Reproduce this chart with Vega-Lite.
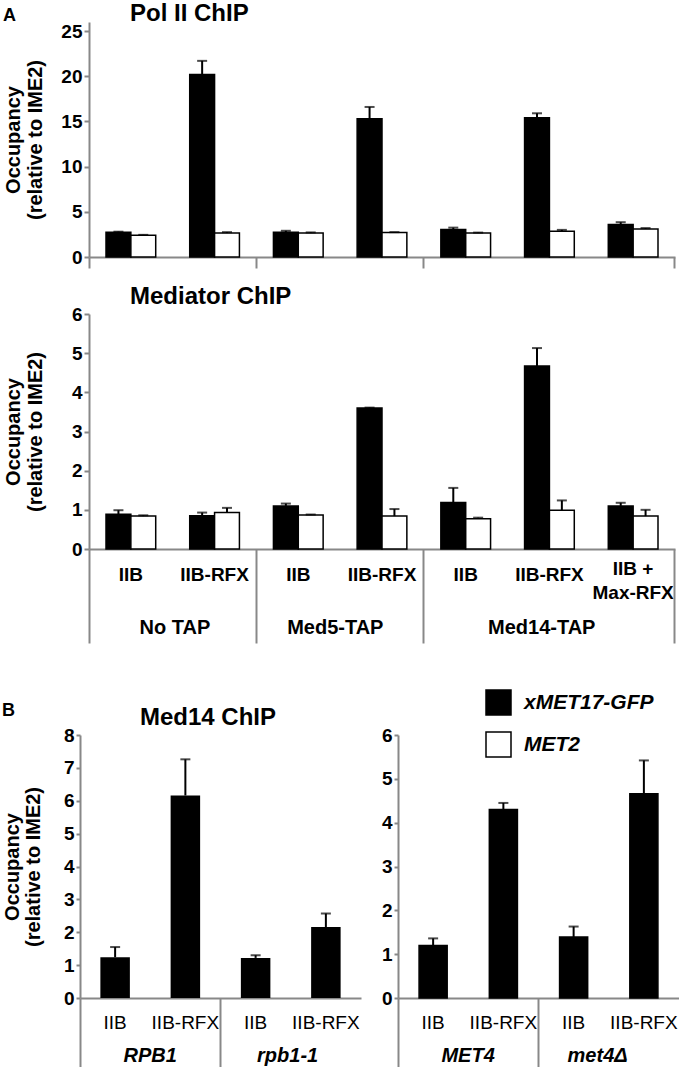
{
  "$schema": "https://vega.github.io/schema/vega-lite/v6.json",
  "padding": {"left": 2, "top": 2, "right": 0, "bottom": 0},
  "background": "white",
  "config": {
    "font": "Liberation Sans",
    "view": {"stroke": null},
    "axis": {"grid": false, "domainColor": "#888888", "domainWidth": 2, "tickColor": "#888888", "tickWidth": 2, "labelColor": "black", "titleColor": "black", "labelFont": "Liberation Sans", "titleFont": "Liberation Sans", "labelOverlap": false, "labelAngle": 0},
    "title": {"font": "Liberation Sans", "color": "black", "fontWeight": "bold"}
  },
  "datasets": {
    "polii": [
      {"key": "No TAP|IIB", "series": "xMET17-GFP", "value": 2.75, "hi": 2.8},
      {"key": "No TAP|IIB", "series": "MET2", "value": 2.4, "hi": 2.45},
      {"key": "No TAP|IIB-RFX", "series": "xMET17-GFP", "value": 20.2, "hi": 21.7},
      {"key": "No TAP|IIB-RFX", "series": "MET2", "value": 2.65, "hi": 2.75},
      {"key": "Med5-TAP|IIB", "series": "xMET17-GFP", "value": 2.75, "hi": 2.9},
      {"key": "Med5-TAP|IIB", "series": "MET2", "value": 2.65, "hi": 2.72},
      {"key": "Med5-TAP|IIB-RFX", "series": "xMET17-GFP", "value": 15.3, "hi": 16.6},
      {"key": "Med5-TAP|IIB-RFX", "series": "MET2", "value": 2.7, "hi": 2.75},
      {"key": "Med14-TAP|IIB", "series": "xMET17-GFP", "value": 3.05, "hi": 3.25},
      {"key": "Med14-TAP|IIB", "series": "MET2", "value": 2.65, "hi": 2.7},
      {"key": "Med14-TAP|IIB-RFX", "series": "xMET17-GFP", "value": 15.4, "hi": 15.9},
      {"key": "Med14-TAP|IIB-RFX", "series": "MET2", "value": 2.85, "hi": 3.0},
      {"key": "Med14-TAP|IIB + Max-RFX", "series": "xMET17-GFP", "value": 3.6, "hi": 3.85},
      {"key": "Med14-TAP|IIB + Max-RFX", "series": "MET2", "value": 3.1, "hi": 3.2}
    ],
    "med": [
      {"key": "No TAP|IIB", "series": "xMET17-GFP", "value": 0.89, "hi": 0.99},
      {"key": "No TAP|IIB", "series": "MET2", "value": 0.84, "hi": 0.86},
      {"key": "No TAP|IIB-RFX", "series": "xMET17-GFP", "value": 0.85, "hi": 0.93},
      {"key": "No TAP|IIB-RFX", "series": "MET2", "value": 0.93, "hi": 1.05},
      {"key": "Med5-TAP|IIB", "series": "xMET17-GFP", "value": 1.1, "hi": 1.16},
      {"key": "Med5-TAP|IIB", "series": "MET2", "value": 0.87, "hi": 0.88},
      {"key": "Med5-TAP|IIB-RFX", "series": "xMET17-GFP", "value": 3.6, "hi": 3.61},
      {"key": "Med5-TAP|IIB-RFX", "series": "MET2", "value": 0.84, "hi": 1.02},
      {"key": "Med14-TAP|IIB", "series": "xMET17-GFP", "value": 1.19, "hi": 1.56},
      {"key": "Med14-TAP|IIB", "series": "MET2", "value": 0.77, "hi": 0.8},
      {"key": "Med14-TAP|IIB-RFX", "series": "xMET17-GFP", "value": 4.67, "hi": 5.13},
      {"key": "Med14-TAP|IIB-RFX", "series": "MET2", "value": 0.99, "hi": 1.24},
      {"key": "Med14-TAP|IIB + Max-RFX", "series": "xMET17-GFP", "value": 1.1, "hi": 1.18},
      {"key": "Med14-TAP|IIB + Max-RFX", "series": "MET2", "value": 0.84, "hi": 1.0}
    ],
    "bleft": [
      {"key": "RPB1|IIB", "series": "xMET17-GFP", "value": 1.24, "hi": 1.55},
      {"key": "RPB1|IIB-RFX", "series": "xMET17-GFP", "value": 6.16, "hi": 7.26},
      {"key": "rpb1-1|IIB", "series": "xMET17-GFP", "value": 1.22, "hi": 1.3},
      {"key": "rpb1-1|IIB-RFX", "series": "xMET17-GFP", "value": 2.16, "hi": 2.57}
    ],
    "bright": [
      {"key": "MET4|IIB", "series": "xMET17-GFP", "value": 1.2, "hi": 1.36},
      {"key": "MET4|IIB-RFX", "series": "xMET17-GFP", "value": 4.3, "hi": 4.45},
      {"key": "met4Δ|IIB", "series": "xMET17-GFP", "value": 1.39, "hi": 1.63},
      {"key": "met4Δ|IIB-RFX", "series": "xMET17-GFP", "value": 4.66, "hi": 5.42}
    ]
  },
  "resolve": {"scale": {"fill": "independent", "xOffset": "independent"}, "legend": {"fill": "independent"}},
  "spacing": 45,
  "vconcat": [
    {
      "title": {"text": "A", "anchor": "start", "frame": "bounds", "fontSize": 18, "baseline": "alphabetic", "offset": 0, "dy": 37},
      "bounds": "flush",
      "spacing": 57,
      "resolve": {"scale": {"xOffset": "independent"}},
      "vconcat": [
        {
          "width": 586, "height": 235,
          "data": {"name": "polii"},
          "title": {"text": "Pol II ChIP", "anchor": "start", "frame": "group", "dx": 41, "dy": 23, "fontSize": 24, "baseline": "alphabetic", "offset": 0},
          "resolve": {"axis": {"x": "independent"}},
          "layer": [
            {
              "mark": {"type": "bar", "stroke": "black", "strokeWidth": 1.5},
              "encoding": {
                "x": {"field": "key", "type": "nominal", "scale": {"domain": ["No TAP|IIB", "No TAP|IIB-RFX", "Med5-TAP|IIB", "Med5-TAP|IIB-RFX", "Med14-TAP|IIB", "Med14-TAP|IIB-RFX", "Med14-TAP|IIB + Max-RFX"], "paddingInner": 0, "paddingOuter": 0}, "axis": {"orient": "bottom", "title": null, "labels": false, "ticks": false, "tickSize": 0, "domain": true}},
                "xOffset": {"field": "series", "type": "nominal", "scale": {"domain": ["xMET17-GFP", "MET2"], "paddingInner": 0, "paddingOuter": 0.684}},
                "y": {"field": "value", "type": "quantitative", "scale": {"domain": [0, 25]}, "axis": {"title": ["Occupancy", "(relative to IME2)"], "titleFontSize": 20, "titleFontWeight": "bold", "titleLineHeight": 22, "titlePadding": 14, "minExtent": 30, "maxExtent": 30, "values": [0, 5, 10, 15, 20, 25], "labelFontSize": 19, "labelFontWeight": "bold", "tickSize": 5, "labelPadding": 2}},
                "fill": {"field": "series", "type": "nominal", "scale": {"domain": ["xMET17-GFP", "MET2"], "range": ["black", "white"]}, "legend": null}
              }
            },
            {
              "mark": {"type": "rule", "color": "black", "strokeWidth": 2},
              "encoding": {
                "x": {"field": "key", "type": "nominal", "axis": {"orient": "bottom", "title": null, "labels": false, "domain": false, "ticks": true, "bandPosition": 0, "tickSize": 11, "tickOpacity": {"condition": {"test": "datum.value == 'No TAP|IIB' || datum.value == 'Med5-TAP|IIB' || datum.value == 'Med14-TAP|IIB'", "value": 1}, "value": 0}}},
                "xOffset": {"field": "series", "type": "nominal"},
                "y": {"field": "value", "type": "quantitative", "axis": {"title": ["Occupancy", "(relative to IME2)"], "titleFontSize": 20, "titleFontWeight": "bold", "titleLineHeight": 22, "titlePadding": 14, "minExtent": 30, "maxExtent": 30, "values": [0, 5, 10, 15, 20, 25], "labelFontSize": 19, "labelFontWeight": "bold", "tickSize": 5, "labelPadding": 2}},
                "y2": {"field": "hi"}
              }
            },
            {
              "mark": {"type": "tick", "color": "black", "thickness": 2, "size": 10},
              "encoding": {
                "x": {"field": "key", "type": "nominal", "axis": {"orient": "bottom", "title": null, "labels": false, "domain": false, "ticks": true, "bandPosition": 1, "tickSize": 11, "tickOpacity": {"condition": {"test": "datum.value == 'Med14-TAP|IIB + Max-RFX'", "value": 1}, "value": 0}}},
                "xOffset": {"field": "series", "type": "nominal"},
                "y": {"field": "hi", "type": "quantitative", "axis": {"title": ["Occupancy", "(relative to IME2)"], "titleFontSize": 20, "titleFontWeight": "bold", "titleLineHeight": 22, "titlePadding": 14, "minExtent": 30, "maxExtent": 30, "values": [0, 5, 10, 15, 20, 25], "labelFontSize": 19, "labelFontWeight": "bold", "tickSize": 5, "labelPadding": 2}}
              }
            }
          ]
        },
        {
          "width": 586, "height": 235,
          "data": {"name": "med"},
          "title": {"text": "Mediator ChIP", "anchor": "start", "frame": "group", "dx": 41, "dy": 23, "fontSize": 24, "baseline": "alphabetic", "offset": 0},
          "resolve": {"axis": {"x": "independent"}},
          "layer": [
            {
              "mark": {"type": "bar", "stroke": "black", "strokeWidth": 1.5},
              "encoding": {
                "x": {"field": "key", "type": "nominal", "scale": {"domain": ["No TAP|IIB", "No TAP|IIB-RFX", "Med5-TAP|IIB", "Med5-TAP|IIB-RFX", "Med14-TAP|IIB", "Med14-TAP|IIB-RFX", "Med14-TAP|IIB + Max-RFX"], "paddingInner": 0, "paddingOuter": 0}, "axis": {"orient": "bottom", "title": null, "labels": true, "ticks": false, "tickSize": 0, "domain": true, "labelExpr": "datum.value == 'Med14-TAP|IIB + Max-RFX' ? ['IIB +', 'Max-RFX'] : split(datum.value, '|')[1]", "labelFontSize": 19, "labelFontWeight": "bold", "labelBaseline": "middle", "labelLineHeight": 24, "labelPadding": {"condition": {"test": "datum.value == 'Med14-TAP|IIB + Max-RFX'", "value": 19}, "value": 25}}},
                "xOffset": {"field": "series", "type": "nominal", "scale": {"domain": ["xMET17-GFP", "MET2"], "paddingInner": 0, "paddingOuter": 0.684}},
                "y": {"field": "value", "type": "quantitative", "scale": {"domain": [0, 6]}, "axis": {"title": ["Occupancy", "(relative to IME2)"], "titleFontSize": 20, "titleFontWeight": "bold", "titleLineHeight": 22, "titlePadding": 14, "minExtent": 30, "maxExtent": 30, "values": [0, 1, 2, 3, 4, 5, 6], "labelFontSize": 19, "labelFontWeight": "bold", "tickSize": 5, "labelPadding": 2}},
                "fill": {"field": "series", "type": "nominal", "scale": {"domain": ["xMET17-GFP", "MET2"], "range": ["black", "white"]}, "legend": null}
              }
            },
            {
              "mark": {"type": "rule", "color": "black", "strokeWidth": 2},
              "encoding": {
                "x": {"field": "key", "type": "nominal", "axis": {"orient": "bottom", "title": null, "labels": false, "domain": false, "ticks": true, "bandPosition": 0, "tickSize": 94, "tickOpacity": {"condition": {"test": "datum.value == 'No TAP|IIB' || datum.value == 'Med5-TAP|IIB' || datum.value == 'Med14-TAP|IIB'", "value": 1}, "value": 0}}},
                "xOffset": {"field": "series", "type": "nominal"},
                "y": {"field": "value", "type": "quantitative", "axis": {"title": ["Occupancy", "(relative to IME2)"], "titleFontSize": 20, "titleFontWeight": "bold", "titleLineHeight": 22, "titlePadding": 14, "minExtent": 30, "maxExtent": 30, "values": [0, 1, 2, 3, 4, 5, 6], "labelFontSize": 19, "labelFontWeight": "bold", "tickSize": 5, "labelPadding": 2}},
                "y2": {"field": "hi"}
              }
            },
            {
              "mark": {"type": "tick", "color": "black", "thickness": 2, "size": 10},
              "encoding": {
                "x": {"field": "key", "type": "nominal", "axis": {"orient": "bottom", "title": null, "labels": true, "domain": false, "ticks": true, "bandPosition": 1, "tickSize": 94, "tickOpacity": {"condition": {"test": "datum.value == 'Med14-TAP|IIB + Max-RFX'", "value": 1}, "value": 0}, "labelExpr": "datum.value == 'No TAP|IIB' ? 'No TAP' : datum.value == 'Med5-TAP|IIB' ? 'Med5-TAP' : datum.value == 'Med14-TAP|IIB' ? 'Med14-TAP' : ''", "labelFontSize": 20, "labelFontWeight": "bold", "labelBaseline": "middle", "labelPadding": -15.6, "labelOffset": {"condition": [{"test": "datum.value == 'Med14-TAP|IIB'", "value": 76}, {"test": "datum.value == 'Med5-TAP|IIB'", "value": 37}], "value": 44}}},
                "xOffset": {"field": "series", "type": "nominal"},
                "y": {"field": "hi", "type": "quantitative", "axis": {"title": ["Occupancy", "(relative to IME2)"], "titleFontSize": 20, "titleFontWeight": "bold", "titleLineHeight": 22, "titlePadding": 14, "minExtent": 30, "maxExtent": 30, "values": [0, 1, 2, 3, 4, 5, 6], "labelFontSize": 19, "labelFontWeight": "bold", "tickSize": 5, "labelPadding": 2}}
              }
            }
          ]
        }
      ]
    },
    {
      "title": {"text": "B", "anchor": "start", "frame": "bounds", "fontSize": 18, "baseline": "alphabetic", "offset": 0, "dy": 45},
      "bounds": "flush",
      "spacing": 37,
      "resolve": {"scale": {"fill": "independent"}, "legend": {"fill": "independent"}},
      "hconcat": [
        {
          "width": 272, "height": 263,
          "data": {"name": "bleft"},
          "title": {"text": "Med14 ChIP", "anchor": "start", "frame": "group", "dx": 51, "dy": 23, "fontSize": 24, "baseline": "alphabetic", "offset": 0},
          "resolve": {"axis": {"x": "independent"}},
          "layer": [
            {
              "mark": {"type": "bar", "color": "black", "width": {"band": 0.42}},
              "encoding": {
                "x": {"field": "key", "type": "nominal", "scale": {"domain": ["RPB1|IIB", "RPB1|IIB-RFX", "rpb1-1|IIB", "rpb1-1|IIB-RFX"], "range": [-9, 272], "paddingInner": 0, "paddingOuter": 0}, "axis": {"orient": "bottom", "title": null, "labels": true, "ticks": false, "tickSize": 0, "domain": true, "labelExpr": "split(datum.value, '|')[1]", "labelFontSize": 19, "labelFontWeight": "normal", "labelBaseline": "middle", "labelPadding": 24}},
                "y": {"field": "value", "type": "quantitative", "scale": {"domain": [0, 8]}, "axis": {"offset": 9, "title": ["Occupancy", "(relative to IME2)"], "titleFontSize": 20, "titleFontWeight": "bold", "titleLineHeight": 21, "titlePadding": 12, "minExtent": 25, "maxExtent": 25, "values": [0, 1, 2, 3, 4, 5, 6, 7, 8], "labelFontSize": 19, "labelFontWeight": "bold", "tickSize": 4, "labelPadding": 2}}
              }
            },
            {
              "mark": {"type": "rule", "color": "black", "strokeWidth": 2},
              "encoding": {
                "x": {"field": "key", "type": "nominal", "axis": {"orient": "bottom", "title": null, "labels": false, "domain": false, "ticks": true, "bandPosition": 0, "tickSize": 70, "tickOpacity": {"condition": {"test": "indexof(datum.value, '|IIB-RFX') < 0", "value": 1}, "value": 0}}},
                "y": {"field": "value", "type": "quantitative", "axis": {"offset": 9, "title": ["Occupancy", "(relative to IME2)"], "titleFontSize": 20, "titleFontWeight": "bold", "titleLineHeight": 21, "titlePadding": 12, "minExtent": 25, "maxExtent": 25, "values": [0, 1, 2, 3, 4, 5, 6, 7, 8], "labelFontSize": 19, "labelFontWeight": "bold", "tickSize": 4, "labelPadding": 2}},
                "y2": {"field": "hi"}
              }
            },
            {
              "mark": {"type": "tick", "color": "black", "thickness": 2, "size": 10},
              "encoding": {
                "x": {"field": "key", "type": "nominal", "axis": {"orient": "bottom", "title": null, "labels": true, "domain": false, "ticks": false, "tickSize": 0, "labelExpr": "indexof(datum.value, '|IIB-RFX') < 0 ? split(datum.value, '|')[0] : ''", "labelFontSize": 20, "labelFontWeight": "bold", "labelFontStyle": "italic", "labelBaseline": "middle", "labelPadding": 57, "labelOffset": {"condition": {"test": "datum.value == 'rpb1-1|IIB'", "value": 32}, "value": 35}}},
                "y": {"field": "hi", "type": "quantitative", "axis": {"offset": 9, "title": ["Occupancy", "(relative to IME2)"], "titleFontSize": 20, "titleFontWeight": "bold", "titleLineHeight": 21, "titlePadding": 12, "minExtent": 25, "maxExtent": 25, "values": [0, 1, 2, 3, 4, 5, 6, 7, 8], "labelFontSize": 19, "labelFontWeight": "bold", "tickSize": 4, "labelPadding": 2}}
              }
            }
          ]
        },
        {
          "width": 281, "height": 263,
          "data": {"name": "bright"},
          "resolve": {"axis": {"x": "independent"}},
          "layer": [
            {
              "mark": {"type": "bar", "stroke": "black", "strokeWidth": 1.5, "width": {"band": 0.4}},
              "encoding": {
                "x": {"field": "key", "type": "nominal", "scale": {"domain": ["MET4|IIB", "MET4|IIB-RFX", "met4Δ|IIB", "met4Δ|IIB-RFX"], "paddingInner": 0, "paddingOuter": 0}, "axis": {"orient": "bottom", "title": null, "labels": true, "ticks": false, "tickSize": 0, "domain": true, "labelExpr": "split(datum.value, '|')[1]", "labelFontSize": 19, "labelFontWeight": "normal", "labelBaseline": "middle", "labelPadding": 24}},
                "y": {"field": "value", "type": "quantitative", "scale": {"domain": [0, 6]}, "axis": {"title": null, "minExtent": 25, "maxExtent": 25, "values": [0, 1, 2, 3, 4, 5, 6], "labelFontSize": 19, "labelFontWeight": "bold", "tickSize": 4, "labelPadding": 2}},
                "fill": {"field": "series", "type": "nominal", "scale": {"domain": ["xMET17-GFP", "MET2"], "range": ["black", "white"]}, "legend": {"orient": "none", "legendX": 87, "legendY": -46, "title": null, "symbolType": "square", "symbolSize": 625, "symbolStrokeColor": "black", "symbolStrokeWidth": 1.5, "labelFontSize": 21, "labelFontWeight": "bold", "labelFontStyle": "italic", "labelFont": "Liberation Sans", "labelColor": "black", "labelOffset": 12, "rowPadding": 11}}
              }
            },
            {
              "mark": {"type": "rule", "color": "black", "strokeWidth": 2},
              "encoding": {
                "x": {"field": "key", "type": "nominal", "axis": {"orient": "bottom", "title": null, "labels": false, "domain": false, "ticks": true, "bandPosition": 0, "tickSize": 70, "tickOpacity": {"condition": {"test": "indexof(datum.value, '|IIB-RFX') < 0", "value": 1}, "value": 0}}},
                "y": {"field": "value", "type": "quantitative", "axis": {"title": null, "minExtent": 25, "maxExtent": 25, "values": [0, 1, 2, 3, 4, 5, 6], "labelFontSize": 19, "labelFontWeight": "bold", "tickSize": 4, "labelPadding": 2}},
                "y2": {"field": "hi"}
              }
            },
            {
              "mark": {"type": "tick", "color": "black", "thickness": 2, "size": 10},
              "encoding": {
                "x": {"field": "key", "type": "nominal", "axis": {"orient": "bottom", "title": null, "labels": true, "domain": false, "ticks": false, "tickSize": 0, "labelExpr": "indexof(datum.value, '|IIB-RFX') < 0 ? split(datum.value, '|')[0] : ''", "labelFontSize": 20, "labelFontWeight": "bold", "labelFontStyle": "italic", "labelBaseline": "middle", "labelPadding": 57, "labelOffset": {"condition": {"test": "datum.value == 'met4Δ|IIB'", "value": 24}, "value": 35}}},
                "y": {"field": "hi", "type": "quantitative", "axis": {"title": null, "minExtent": 25, "maxExtent": 25, "values": [0, 1, 2, 3, 4, 5, 6], "labelFontSize": 19, "labelFontWeight": "bold", "tickSize": 4, "labelPadding": 2}}
              }
            }
          ]
        }
      ]
    }
  ]
}
